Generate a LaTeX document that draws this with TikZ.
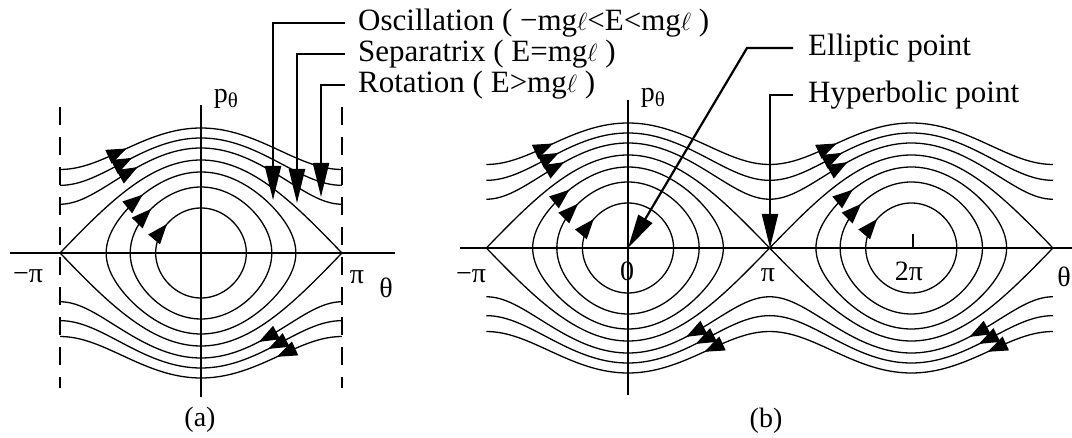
\documentclass[tikz,border=0pt]{standalone}
\usepackage{fontspec}
\setmainfont{Liberation Serif}
\usetikzlibrary{arrows.meta}
\tikzset{
  curve/.style={line width=1.3pt},
  axisline/.style={line width=2.2pt},
  bound/.style={dash pattern=on 18pt off 12pt, line width=2.6pt},
  flowtip/.style={line width=1.3pt, -{Triangle[length=20pt,width=15pt]}},
  lead/.style={line width=2.2pt, -{Triangle[length=34pt,width=16pt]}},
  lbl/.style={font=\fontsize{31}{31}\selectfont, anchor=west, inner sep=0pt},
  axlbl/.style={font=\fontsize{28}{30}\selectfont, inner sep=0pt},
}
\newcommand{\ptheta}{p\raisebox{-0.35ex}{\fontsize{21}{21}\selectfont θ}}
\newcommand{\uprot}[2]{\draw[flowtip] plot[domain={#2-11}:{#2},samples=6] ({\sc*\x},{-rotp(\x,#1)});}
\newcommand{\lowrot}[2]{\draw[flowtip] plot[domain={#2+11}:{#2},samples=6] ({\sc*\x},{rotp(\x,#1)});}
\newcommand{\upoval}[2]{\draw[flowtip] plot[domain={#2-12}:{#2},samples=6] ({2*\sc*asin(#1/93*sin(\x))},{-#1*cos(\x)});}
\newcommand{\drawovals}{%
  \foreach \q in {45,66,81}{\draw[curve] plot[domain=0:360,samples=145,smooth] ({2*\sc*asin(\q/93*sin(\x))},{-\q*cos(\x)});}}
\newcommand{\flowsA}{%
  \uprot{12.5}{-95}\uprot{11.5}{-88}\uprot{10.5}{-81}%
  \upoval{81}{-44}\upoval{66}{-48}\upoval{45}{-50}%
  \lowrot{10.5}{74}\lowrot{11.5}{86}\lowrot{12.5}{97}}
\begin{document}
\begin{tikzpicture}[x=1pt,y=-1pt,
  declare function={rotp(\t,\p)=10*sqrt(\p*\p-86.49*pow(sin(\t/2),2));}]
\useasboundingbox (0,0) rectangle (1072,438);

% ---------------- panel (a) ----------------
\begin{scope}[shift={(201,253)}]
\def\sc{0.783}
\drawovals
\foreach \p in {10.5,11.5,12.5}{
  \draw[curve] plot[domain=-180:180,samples=73,smooth] ({\sc*\x},{-rotp(\x,\p)});
  \draw[curve] plot[domain=-180:180,samples=73,smooth] ({\sc*\x},{rotp(\x,\p)});}
\draw[curve] plot[domain=-180:180,samples=73,smooth] ({\sc*\x},{-93*cos(\x/2)});
\draw[curve] plot[domain=-180:180,samples=73,smooth] ({\sc*\x},{93*cos(\x/2)});
\flowsA
\draw[axisline] (-191,0) -- (194,0);
\draw[axisline] (0,-148) -- (0,144);
\draw[bound] (-141,-146) -- (-141,135);
\draw[bound] (141,-146) -- (141,135);
\end{scope}
\node[axlbl] (amp) at (28,276) {−π};
\node[axlbl] (app) at (357,277) {π};
\node[axlbl] (ath) at (386,288) {θ};
\node[axlbl] (apt) at (226,99) {\ptheta};
\node[axlbl] (alab) at (200,420) {(a)};

% ---------------- panel (b) ----------------
\begin{scope}[shift={(628,248)}]
\def\sc{0.787}
\drawovals
\begin{scope}[shift={(283.3,0)}]\drawovals\end{scope}
\foreach \p in {10.5,11.5,12.5}{
  \draw[curve] plot[domain=-180:540,samples=145,smooth] ({\sc*\x},{-rotp(\x,\p)});
  \draw[curve] plot[domain=-180:540,samples=145,smooth] ({\sc*\x},{rotp(\x,\p)});}
\draw[curve] plot[domain=-180:180,samples=73,smooth] ({\sc*\x},{-93*abs(cos(\x/2))});
\draw[curve] plot[domain=-180:180,samples=73,smooth] ({\sc*\x},{93*abs(cos(\x/2))});
\draw[curve] plot[domain=180:540,samples=73,smooth] ({\sc*\x},{-93*abs(cos(\x/2))});
\draw[curve] plot[domain=180:540,samples=73,smooth] ({\sc*\x},{93*abs(cos(\x/2))});
\flowsA
\begin{scope}[shift={(283.3,0)}]\flowsA\end{scope}
\draw[axisline] (-168,0) -- (450,0);
\draw[axisline] (0,-148) -- (0,147);
\draw[line width=2pt] (285,-14) -- (285,0);
\end{scope}
\node[axlbl] (bmp) at (471,276) {−π};
\node[axlbl] (bz) at (627,271) {0};
\node[axlbl] (bp) at (768,275) {π};
\node[axlbl] (b2p) at (909,271) {2π};
\node[axlbl] (bth) at (1064,277) {θ};
\node[axlbl] (bpt) at (653,98) {\ptheta};
\node[axlbl] (blab) at (766,421) {(b)};

% ---------------- labels and leaders ----------------
\node[lbl] (osc) at (358,23) {Oscillation ( −mg$\ell$<E<mg$\ell$ )};
\node[lbl] (sep) at (358,54) {Separatrix ( E=mg$\ell$ )};
\node[lbl] (rot) at (358,85) {Rotation ( E>mg$\ell$ )};
\node[lbl] (ell) at (808,48) {Elliptic point};
\node[lbl] (hyp) at (808,95) {Hyperbolic point};
\coordinate (osctip) at (273,200);
\coordinate (septip) at (297,203);
\coordinate (rottip) at (321,197);
\coordinate (bO) at (628,248);
\coordinate (bpi) at (770,248);
\coordinate (elbow) at (747,48);
\draw[lead] ([xshift=-13pt]osc.west) -| (osctip);
\draw[lead] ([xshift=-13pt]sep.west) -| (septip);
\draw[lead] ([xshift=-13pt]rot.west) -| (rottip);
\draw[lead] ([xshift=-15pt]ell.west) -- (elbow) -- (bO);
\draw[lead] ([xshift=-15pt]hyp.west) -| (bpi);
\end{tikzpicture}
\end{document}
